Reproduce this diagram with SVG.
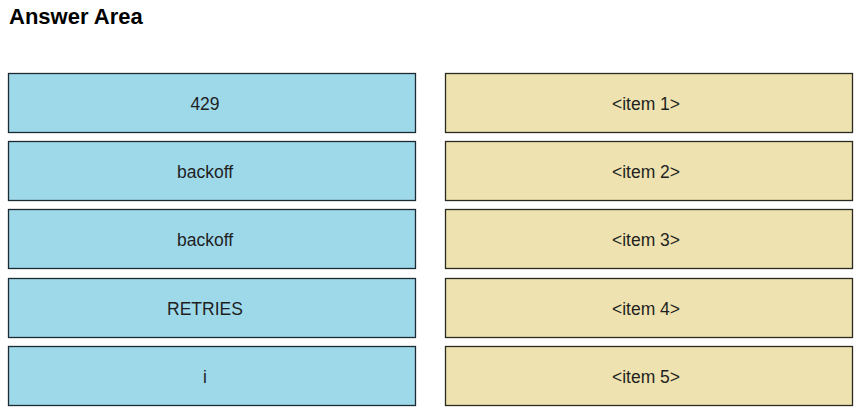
<svg xmlns="http://www.w3.org/2000/svg" width="863" height="418" viewBox="0 0 863 418">
<style>
.t{font-family:"Liberation Sans",Arial,sans-serif;font-size:17.5px;fill:#1f1f1f;text-anchor:middle}
.h{font-family:"Liberation Sans",Arial,sans-serif;font-size:22px;font-weight:bold;fill:#000}
.b{fill:#9ed9ea;stroke:#1c2b33;stroke-width:1.3}
.y{fill:#eee3b0;stroke:#2b2a20;stroke-width:1.3}
</style>
<rect width="863" height="418" fill="#fff"/>
<text class="h" x="9" y="24">Answer Area</text>
<g id="l1"><rect class="b" x="8.5" y="73.5" width="407" height="59"/><text class="t" x="205" y="109.5">429</text></g>
<g id="l2"><rect class="b" x="8.5" y="141.5" width="407" height="59"/><text class="t" x="205" y="177.5">backoff</text></g>
<g id="l3"><rect class="b" x="8.5" y="209.5" width="407" height="59"/><text class="t" x="205" y="245.5">backoff</text></g>
<g id="l4"><rect class="b" x="8.5" y="278.5" width="407" height="59"/><text class="t" x="205" y="314.5">RETRIES</text></g>
<g id="l5"><rect class="b" x="8.5" y="346.5" width="407" height="59"/><text class="t" x="205" y="382.5">i</text></g>
<g id="r1"><rect class="y" x="445.5" y="73.5" width="407" height="59"/><text class="t" x="646" y="109.5">&lt;item 1&gt;</text></g>
<g id="r2"><rect class="y" x="445.5" y="141.5" width="407" height="59"/><text class="t" x="646" y="177.5">&lt;item 2&gt;</text></g>
<g id="r3"><rect class="y" x="445.5" y="209.5" width="407" height="59"/><text class="t" x="646" y="245.5">&lt;item 3&gt;</text></g>
<g id="r4"><rect class="y" x="445.5" y="278.5" width="407" height="59"/><text class="t" x="646" y="314.5">&lt;item 4&gt;</text></g>
<g id="r5"><rect class="y" x="445.5" y="346.5" width="407" height="59"/><text class="t" x="646" y="382.5">&lt;item 5&gt;</text></g>
<g id="connectors"></g>
</svg>
